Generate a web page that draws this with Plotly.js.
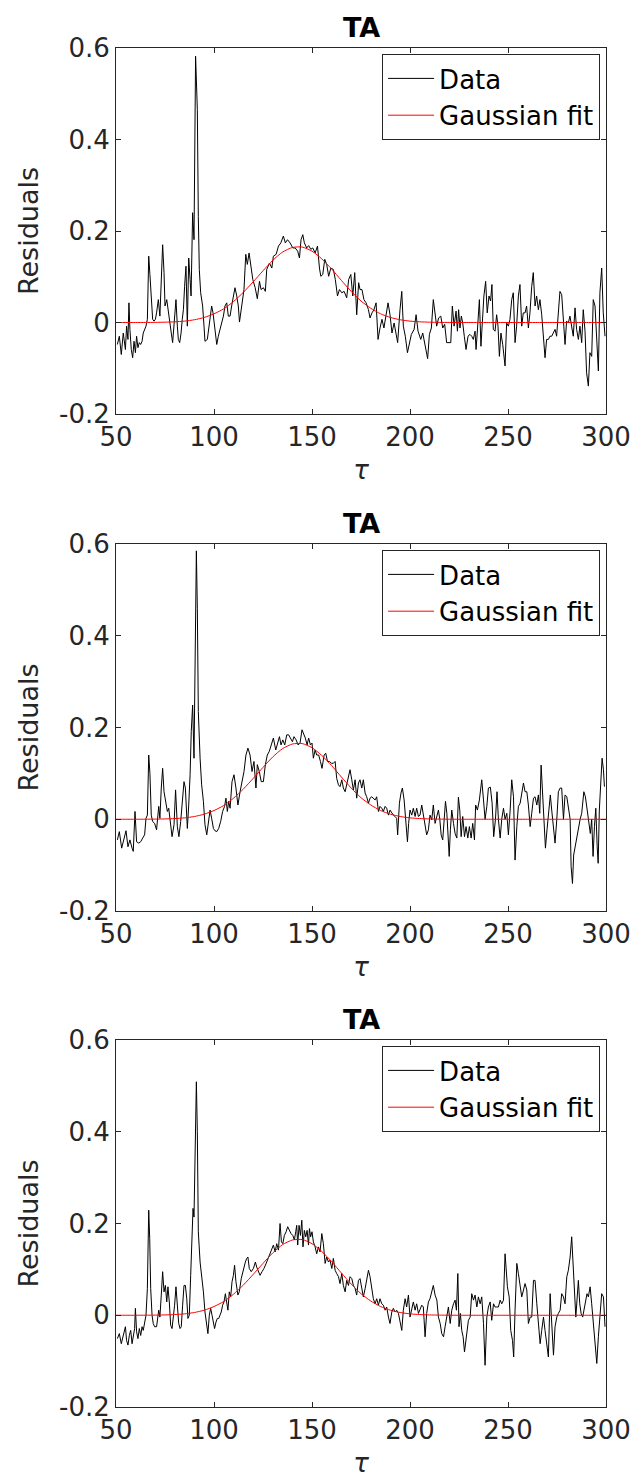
<!DOCTYPE html>
<html>
<head>
<meta charset="utf-8">
<script src="https://cdn.plot.ly/plotly-3.0.1.min.js"></script>
<style>html,body{margin:0;padding:0;background:#fff;}#chart{width:635px;height:1483px;}</style>
</head>
<body>
<div id="chart"></div>
<script>
// ---- Panel 1 data ----
var tau1 = [50.7,51.7,52.7,53.7,54.8,55.4,56.1,56.6,57.1,57.8,58.5,59.2,59.9,60.5,61.2,61.9,62.6,63.3,63.9,64.6,65.3,66,66.7,67.3,68,68.7,69.4,70.1,70.7,71.6,72.4,73.1,73.8,74.5,75,75.9,76.7,77.6,78.2,78.9,79.8,80.6,81.3,81.8,82.5,83.2,83.8,84.4,85,85.7,86.4,87.1,87.8,88.3,89.1,89.8,90.6,91.5,92,92.5,93.2,94.2,94.9,95.4,96.6,97.6,98.8,99.5,100.2,100.9,101.4,102.2,103.1,103.9,104.8,105.6,106.5,107.3,108.2,109,109.5,110.2,110.7,111.6,112.4,113,114.2,115.3,116.2,117,117.9,118.7,119.8,121,122.1,123.2,124,125.2,126.2,126.9,128.3,129.5,130.3,131.7,132.9,134.1,135.4,136.4,137.5,138.8,140.2,141.4,142.7,143.6,144.4,145.3,146.1,147.3,148.3,149.4,150.4,151.6,152.8,153.8,154.5,155.5,156.5,157.5,158.5,159.6,160.9,161.9,163,164,165.2,166.4,167.7,168.7,169.8,170.8,171.8,172.8,173.8,174.5,175.5,176.5,177.6,178.8,179.6,180.6,181.6,182.7,183.7,184.7,185.7,186.7,187.8,188.8,189.8,190.8,191.9,192.9,193.7,194.9,195.8,196.6,197.6,198.7,199.7,200.7,202.1,203.1,204.1,205.5,206.5,207.8,209,209.9,210.9,211.9,212.8,213.6,214.6,215.7,216.7,217.7,218.7,219.7,220.8,221.6,222.5,223.5,224.2,224.8,225.5,226.2,226.9,227.7,228.6,229.6,230.6,231.5,232.3,233.2,233.7,234.3,235.4,236.2,237.1,237.7,238.6,239.4,240.3,241.1,241.8,242.5,243.4,244.2,244.9,245.6,246.4,247.3,248.5,249.3,250.2,251,251.9,252.7,253.6,254.4,255.3,256.1,257,257.8,258.7,259.5,260.4,261.2,262.1,262.9,263.8,264.6,265.5,266.3,267.2,268,268.9,269.7,270.6,271.4,272.3,273.1,274,274.8,275.7,276.5,277.4,278.2,279.1,279.9,280.8,281.6,282.5,283.3,284.2,285,285.9,286.7,287.6,288.4,289.3,290.1,291,291.8,292.7,293.5,294.4,295.2,296.1,296.9,297.8,298.6,299.5];
var res1 = [-0.048,-0.03,-0.07,-0.023,-0.059,-0.008,-0.037,0.043,-0.015,-0.059,-0.077,-0.041,-0.066,-0.03,-0.055,-0.044,-0.048,-0.041,-0.023,-0.015,-0.008,0.007,0.145,0.105,0.043,0.007,0.003,0.007,0.021,0.05,0.014,0.116,0.17,0.109,0.036,0.05,0.021,0,-0.023,-0.044,0,0.05,-0.008,-0.037,-0.044,-0.023,0.007,0.028,0.079,0.123,-0.008,0.141,0.094,0.058,0.24,0.181,0.582,0.466,0.232,0.116,0.065,0.036,-0.008,-0.041,-0.037,-0.008,0.036,0.021,-0.008,-0.03,-0.048,-0.03,-0.015,0,0.014,0.036,0.043,0.014,0.014,0.036,0.05,0.072,0.076,0.058,0.036,0.001,0.043,0.072,0.149,0.127,0.152,0.123,0.094,0.076,0.052,0.09,0.072,0.076,0.068,0.116,0.13,0.119,0.145,0.149,0.167,0.174,0.189,0.174,0.181,0.174,0.163,0.163,0.156,0.141,0.181,0.192,0.174,0.163,0.168,0.16,0.163,0.152,0.167,0.119,0.101,0.105,0.138,0.127,0.101,0.119,0.116,0.094,0.058,0.072,0.065,0.068,0.054,0.094,0.105,0.058,0.109,0.017,0.087,0.072,0.072,0.05,0.043,0.028,0.01,0.021,0.028,0.043,-0.037,-0.012,0.007,-0.012,0.021,0.043,0.017,-0.023,-0.001,-0.023,-0.044,0.028,0.068,-0.008,-0.03,-0.066,-0.044,-0.026,-0.015,0.017,-0.019,-0.037,-0.023,-0.052,-0.079,-0.026,-0.012,0.05,0.021,-0.008,0.01,0.014,-0.012,-0.004,-0.044,-0.044,-0.044,0.036,-0.008,0.025,-0.019,0.028,-0.012,0.014,-0.001,-0.03,-0.059,-0.03,-0.026,-0.03,-0.037,-0.019,-0.059,-0.023,0.05,-0.052,0.014,0.058,0.09,0.021,0.058,0.047,0.083,-0.015,-0.019,0.017,-0.008,-0.074,-0.023,-0.048,-0.095,-0.001,-0.008,0.007,0.05,0.065,-0.044,-0.008,0.058,0.083,-0.008,0.021,0.021,0.036,-0.012,0.021,0.079,0.109,0.036,0.058,0.028,0.05,0.017,-0.03,-0.077,-0.037,-0.037,-0.03,-0.03,-0.023,-0.015,-0.03,0.014,0.068,0.061,0.014,-0.048,0.003,-0.001,0.014,-0.015,-0.03,0.032,-0.015,-0.037,-0.008,-0.044,0.028,-0.019,-0.11,-0.139,-0.066,-0.074,0.05,0.036,-0.037,-0.106,0.065,0.119,0.021,-0.03];

// ---- Panel 2 data ----
var tau2 = [50.7,51.7,52.9,54.1,55.1,56.1,57.1,58.2,58.8,59.7,60.5,61.6,62.6,63.6,64.6,65.3,66,66.7,67.3,68,68.7,69.7,70.7,71.8,72.4,73.1,73.8,74.5,75.2,76.2,76.9,77.6,78.6,79.6,80.4,81.3,82.1,83,84,84.7,85.4,86.4,87.1,87.8,88.4,89.1,89.8,90.5,91,91.5,92,92.9,93.7,94.6,95.4,96.3,97.1,98,98.8,99.7,100.5,101.4,102.4,103.4,104.4,105.4,106.1,106.8,107.5,108.2,109.2,110.2,111.2,112.2,113.3,114.3,115.3,116.3,117.3,118.4,119.4,120.4,121.4,122.1,123.1,124.1,125.2,126.2,127.2,128.2,129.3,130.3,131.5,132.3,133.4,134.2,135.1,136.1,137.1,138.1,139.1,140,140.8,141.9,142.9,143.9,144.9,145.6,146.6,147.5,148.3,149.2,150,150.7,151.6,152.4,153.4,154.3,155.1,156.2,157,157.9,158.9,159.9,160.9,161.8,162.6,163.5,164.3,165.2,166,166.9,167.7,168.6,169.4,170.3,171.1,172,172.8,173.7,174.5,175.4,176.2,177.1,177.9,178.8,179.6,180.5,181.3,182.2,183,183.9,184.7,185.6,186.4,187.3,188.1,189,189.8,190.7,191.5,192.4,193.2,193.7,194.6,195.4,196.1,197,197.8,198.7,199.3,200,200.9,201.7,202.6,203.4,204.3,205.1,206,206.8,207.7,208.5,209.4,210.2,211.1,211.9,212.8,213.7,214.5,215.2,215.9,216.7,217.6,218.1,218.8,219.3,220,220.6,221.3,222.2,223,223.9,224.7,225.4,226.1,226.9,227.8,228.6,229.5,230.3,231.2,232,232.9,233.5,234.4,235.4,236.6,237.5,238.3,239.2,240,241,241.9,242.7,243.6,244.4,245.1,246,246.8,247.7,248.5,249.4,250.2,251.1,251.9,252.8,253.6,254.5,255.3,256.2,257,257.9,258.7,259.6,260.4,261.3,262.1,263,263.8,264.7,265.5,266.2,266.9,267.6,268.2,269.1,269.9,270.8,271.6,272.3,273.2,274,274.9,275.7,276.6,277.4,278.3,279.1,280,280.8,281.7,282.2,282.9,283.5,284.2,285.1,285.9,286.8,287.6,288.7,289.5,290.4,291.2,292,292.7,293.4,294.1,294.8,295.5,296,296.6,297.3,298,298.7,299.2];
var res2 = [-0.045,-0.027,-0.063,-0.041,-0.025,-0.06,-0.045,-0.063,-0.07,0.017,-0.049,-0.052,-0.049,-0.041,-0.034,0.002,0.009,0.14,0.1,0.009,-0.005,-0.009,-0.023,0.028,0.002,0.068,0.111,0.06,0.039,0.017,0.024,0.002,-0.038,-0.012,0.064,-0.016,-0.038,-0.005,0.042,0.082,0.068,-0.02,0.031,0.097,0.191,0.249,0.133,0.471,0.585,0.46,0.235,0.133,0.075,0.039,-0.012,-0.034,-0.012,0.02,0.002,-0.02,-0.025,-0.027,-0.02,-0.005,0.017,0.028,0.046,0.017,0.039,0.024,0.082,0.097,0.068,0.031,0.06,0.082,0.104,0.14,0.155,0.14,0.104,0.126,0.068,0.119,0.104,0.082,0.082,0.119,0.14,0.148,0.162,0.177,0.151,0.162,0.18,0.162,0.173,0.162,0.184,0.184,0.177,0.169,0.18,0.173,0.162,0.166,0.195,0.188,0.177,0.162,0.177,0.162,0.166,0.133,0.151,0.14,0.14,0.126,0.111,0.14,0.144,0.126,0.126,0.122,0.122,0.126,0.089,0.075,0.071,0.086,0.068,0.06,0.075,0.089,0.108,0.086,0.064,0.086,0.046,0.079,0.086,0.068,0.086,0.057,0.049,0.035,0.046,0.049,0.046,0.042,0.049,0.017,0.028,0.024,0.017,0.028,0.024,0.009,0.02,0.013,0.009,0.006,0.002,-0.034,0.035,0.057,0.068,0.042,-0.001,-0.049,-0.009,0.02,0.009,0.024,0.006,0.024,0.006,0.009,0.031,0.009,-0.02,-0.034,-0.023,0.009,-0.001,0.031,-0.009,0.006,0.02,0,-0.034,-0.045,0,0.039,0.013,-0.038,-0.081,-0.023,0.02,-0.009,-0.031,-0.041,0.048,0.02,-0.038,0.006,-0.038,-0.016,-0.041,-0.016,-0.041,-0.009,-0.045,0.031,0.02,0.042,0.086,0.042,0,0.028,0.068,0.07,0.035,-0.038,0,0.06,0,-0.041,0,0.024,0,0.013,-0.034,0.02,0.086,0.049,-0.089,-0.016,0.028,0.035,0.053,0.079,0.06,0.06,0.031,-0.016,0.013,0.046,0.049,0.031,0.053,0.013,0.118,0.057,-0.005,-0.063,-0.023,0.024,0.053,0.02,-0.023,-0.052,0,0.06,0.068,0.068,0,0.053,0.049,0.02,0,-0.103,-0.14,-0.078,-0.06,-0.034,-0.016,0,0.013,0.06,0.049,0.017,-0.016,-0.031,0,-0.081,-0.016,0.024,-0.06,-0.096,0.02,0.093,0.133,0.108,0.071];

// ---- Panel 3 data ----
var tau3 = [50.7,51.7,52.7,53.7,54.8,55.4,56.1,56.8,57.5,58.2,58.8,59.5,59.9,60.5,61.2,61.9,62.6,63.3,63.9,64.6,65.3,66,66.7,67.2,67.7,68.4,69,69.7,70.7,71.8,72.4,73.1,73.8,74.5,75.2,75.9,76.5,77.2,77.9,78.6,79.3,79.9,80.6,81.3,82,82.7,83.3,84,84.7,85.4,86.1,86.7,87.4,88.1,88.8,89.3,89.8,90.5,91,91.5,92,92.9,93.7,94.6,95.4,96.3,96.9,97.6,98.3,99,99.7,100.3,101,101.7,102.4,103.1,103.7,104.4,105.1,105.8,106.5,107.1,107.8,108.5,109.2,109.9,110.5,111.2,112.2,112.9,113.9,115,116,116.7,117.3,118,119,120.1,121.1,121.8,122.8,123.5,124.5,125.5,126.9,128.2,129.3,130.3,131.2,132,132.9,133.7,134.4,135.1,135.9,136.8,137.6,138.5,139.3,140.2,141,141.7,142.2,142.7,143.4,144.1,144.8,145.4,146.1,146.8,147.5,148.2,148.7,149.3,150,150.7,151.6,152.4,153.3,154.1,155,155.8,156.7,157.5,158.4,159.2,160.1,160.9,161.8,162.6,163.5,164.3,165.2,166,166.9,167.7,168.6,169.4,170.3,171.1,172,172.8,173.7,174.5,175.4,176.2,177.1,177.9,178.8,179.6,180.5,181.3,182.2,183,183.9,184.7,185.6,186.4,187.3,188.1,189,189.8,190.7,191.5,192.4,193.2,194.1,194.9,195.8,196.6,197.5,198.3,199.2,200,200.9,201.7,202.6,203.4,204.3,205.1,206,206.8,207.7,208.5,209.4,210.2,211.1,211.9,212.8,213.7,214.5,215.4,216.2,217.1,217.9,218.8,219.6,220.5,221.3,222.2,223,223.7,224.4,225,225.7,226.4,227.1,227.8,228.4,229.1,229.8,230.7,231.5,232.4,233.2,234.1,234.9,235.8,236.6,237.5,238.3,239.2,240,240.9,241.7,242.6,243.4,244.3,245.1,246,246.8,247.7,248.5,249,249.7,250.6,251.4,252.3,252.9,253.6,254.5,255.3,256.2,257,257.9,258.7,259.6,260.4,261.3,262.1,263,263.8,264.7,265.5,266.4,267.2,268.1,268.9,269.8,270.6,271.5,272.3,273.2,274,274.9,275.7,276.6,277.4,278.3,279.1,280,280.8,281.7,282.5,283.2,283.9,284.6,285.2,285.9,286.6,287.3,288.1,289,289.7,290.3,291,291.9,292.7,293.6,294.4,295.3,296.1,297,297.8,298.7,299.5];
var res3 = [-0.051,-0.04,-0.062,-0.044,-0.025,-0.055,-0.065,-0.044,-0.033,-0.062,-0.044,-0.029,0.015,-0.036,-0.051,-0.029,-0.044,-0.025,-0.033,-0.015,0,0.058,0.229,0.167,0.058,0,-0.018,-0.025,-0.025,0.011,-0.004,0.044,0.095,0.051,0.065,0.029,0.062,0.029,-0.022,-0.029,-0.004,0.022,0.062,0.022,-0.018,-0.029,-0.025,0.022,0.065,0.065,0.036,-0.007,0,0.087,0.178,0.233,0.214,0.411,0.509,0.4,0.182,0.116,0.087,0.051,0.007,-0.025,-0.04,0,0.015,0,-0.022,-0.029,-0.015,-0.007,-0.007,0,0.007,0.022,0.029,0.047,0.022,0.011,0.051,0.04,0.073,0.087,0.109,0.073,0.044,0.051,0.08,0.102,0.116,0.124,0.127,0.102,0.095,0.102,0.116,0.105,0.095,0.087,0.095,0.102,0.116,0.131,0.145,0.153,0.138,0.156,0.142,0.2,0.16,0.156,0.174,0.182,0.193,0.185,0.178,0.174,0.164,0.182,0.196,0.153,0.196,0.174,0.207,0.149,0.185,0.171,0.185,0.153,0.189,0.171,0.182,0.16,0.149,0.134,0.149,0.138,0.178,0.156,0.113,0.127,0.116,0.12,0.102,0.124,0.098,0.091,0.084,0.069,0.091,0.065,0.051,0.076,0.065,0.084,0.08,0.065,0.058,0.044,0.076,0.08,0.055,0.04,0.058,0.076,0.098,0.084,0.058,0.036,0.025,0.036,0.022,0.036,0.025,0.022,0.011,0.018,-0.004,-0.018,0.007,0.015,0.007,0.011,0.004,-0.015,-0.033,0.011,0.036,0.018,0.044,-0.004,0.018,0.029,0.011,0.025,0.004,0.015,0.022,0.018,-0.047,0.004,0.029,0.036,0.051,0.065,0.044,0.033,-0.004,-0.018,-0.04,-0.047,-0.025,0.004,0.018,-0.018,0.011,0.025,0.033,0.011,0.091,-0.025,0.004,-0.033,-0.047,-0.08,-0.062,-0.033,-0.011,-0.004,0.047,0.033,0.044,0.018,0.04,0.025,0.04,-0.018,-0.109,-0.004,0.018,0.029,-0.011,0.025,0.018,0.018,0.018,0.033,0.025,0.033,0.134,0.105,0.062,0.04,-0.033,-0.055,-0.091,0.011,0.113,0.091,0.069,0.04,0.055,0.069,0.055,-0.018,-0.004,-0.004,0.076,0.076,0.025,-0.018,-0.062,-0.033,-0.004,-0.033,-0.062,-0.091,0.047,-0.011,-0.087,-0.025,-0.004,0.004,0.011,0.047,0.04,0.025,0.084,0.098,0.127,0.171,0.12,0.062,-0.004,0.033,0.076,0.025,0.004,-0.004,0.018,0.04,0.047,0.04,0.062,0.025,-0.018,-0.047,-0.105,-0.047,0.011,0.047,0.04,-0.025];

// ---- Gaussian fit (same fit on every panel) ----
var fitTau = [50,55,60,65,70,75,80,85,90,95,100,105,110,115,120,125,130,135,140,145,150,155,160,165,170,175,180,185,190,195,200,205,210,215,220,225,230,235,240,245,250,255,260,265,270,275,280,285,290,295,300];
var fitRes = [0,0,0,0.0001,0.0003,0.0007,0.0015,0.003,0.006,0.011,0.019,0.030,0.046,0.066,0.089,0.113,0.136,0.154,0.164,0.165,0.156,0.139,0.117,0.092,0.068,0.047,0.031,0.019,0.011,0.006,0.003,0.0015,0.0007,0.0003,0.0001,0,0,0,0,0,0,0,0,0,0,0,0,0,0,0,0];

// ---- Labels ----
var panelTitle = 'TA';
var xLabel = 'τ';
var yLabel = 'Residuals';
var seriesNames = ['Data', 'Gaussian fit'];
var xTickVals = [50, 100, 150, 200, 250, 300];
var xTickText = ['50', '100', '150', '200', '250', '300'];
var yTickVals = [-0.2, 0, 0.2, 0.4, 0.6];
var yTickText = ['-0.2', '0', '0.2', '0.4', '0.6'];

var panels = [
  {tau: tau1, res: res1},
  {tau: tau2, res: res2},
  {tau: tau3, res: res3}
];
var domains = [[0.73068, 1], [0.36497, 0.63503], [0, 0.27005]];
var FONT = 'DejaVu Sans, Verdana, sans-serif';
var AX = '#262626';

var data = [];
var layout = {
  width: 635, height: 1483,
  margin: {l: 116, r: 29, t: 48, b: 76},
  paper_bgcolor: '#ffffff', plot_bgcolor: '#ffffff',
  font: {family: FONT, color: AX},
  showlegend: true,
  annotations: []
};

panels.forEach(function (p, i) {
  var sfx = i === 0 ? '' : String(i + 1);
  var legName = 'legend' + sfx;
  data.push({
    x: p.tau, y: p.res, type: 'scatter', mode: 'lines',
    name: seriesNames[0], line: {color: '#000000', width: 1},
    xaxis: 'x' + sfx, yaxis: 'y' + sfx, legend: legName, hoverinfo: 'skip'
  });
  data.push({
    x: fitTau, y: fitRes, type: 'scatter', mode: 'lines',
    name: seriesNames[1], line: {color: '#ff0000', width: 1, shape: 'spline', smoothing: 0.6},
    xaxis: 'x' + sfx, yaxis: 'y' + sfx, legend: legName, hoverinfo: 'skip'
  });
  layout['xaxis' + sfx] = {
    domain: [0, 1], anchor: 'y' + sfx, range: [50, 300],
    tickmode: 'array', tickvals: xTickVals, ticktext: xTickText,
    ticks: 'inside', ticklen: 5, tickwidth: 1, tickcolor: AX,
    showline: true, linecolor: AX, linewidth: 1, mirror: 'ticks',
    showgrid: false, zeroline: false,
    tickfont: {family: FONT, size: 26, color: AX},
    title: {text: '<i>' + xLabel + '</i>', font: {family: FONT, size: 26, color: AX}, standoff: 9}
  };
  layout['yaxis' + sfx] = {
    domain: domains[i], anchor: 'x' + sfx, range: [-0.2, 0.6],
    tickmode: 'array', tickvals: yTickVals, ticktext: yTickText,
    ticks: 'inside', ticklen: 5, tickwidth: 1, tickcolor: AX,
    showline: true, linecolor: AX, linewidth: 1, mirror: 'ticks',
    showgrid: false, zeroline: false,
    tickfont: {family: FONT, size: 26, color: AX},
    title: {text: yLabel, font: {family: FONT, size: 27, color: AX}, standoff: 12}
  };
  layout[legName] = {
    x: 0.988, xanchor: 'right', xref: 'paper',
    y: domains[i][1] - 6 / 1359, yanchor: 'top', yref: 'paper',
    bgcolor: '#ffffff', bordercolor: AX, borderwidth: 1,
    font: {family: FONT, size: 26, color: '#000000'},
    itemwidth: 46, tracegroupgap: 0
  };
  layout.annotations.push({
    text: '<b>' + panelTitle + '</b>', xref: 'paper', yref: 'paper',
    x: 0.5, y: domains[i][1], xanchor: 'center', yanchor: 'bottom', yshift: 3,
    showarrow: false, font: {family: FONT, size: 27, color: '#000000'}
  });
});

Plotly.newPlot('chart', data, layout, {staticPlot: true, displayModeBar: false});
</script>
</body>
</html>
